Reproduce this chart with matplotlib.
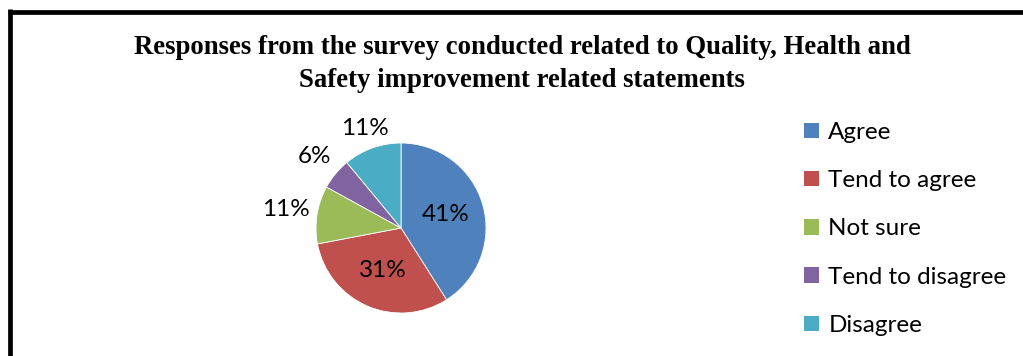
import numpy as np
import matplotlib
matplotlib.use("Agg")
import matplotlib.pyplot as plt
from matplotlib.lines import Line2D
from matplotlib.patches import Patch

categories = ["Agree", "Tend to agree", "Not sure", "Tend to disagree", "Disagree"]
values = [41, 31, 11, 6, 11]
labels = ["41%", "31%", "11%", "6%", "11%"]
colors = ["#4F81BD", "#C0504D", "#9BBB59", "#8064A2", "#4BACC6"]
label_dist = [0.55, 0.55, 1.37, 1.32, 1.25]

W, H, DPI = 1023, 356, 100
fig = plt.figure(figsize=(W / DPI, H / DPI), dpi=DPI)
fig.patch.set_facecolor("white")

# pie axes: center (401, 228) px, radius 85 px
cx, cy, r = 401, 228, 85
ax = fig.add_axes([(cx - r) / W, (H - cy - r) / H, 2 * r / W, 2 * r / H])
wedges, _ = ax.pie(values, colors=colors, startangle=90, counterclock=False,
                   wedgeprops=dict(edgecolor="white", linewidth=0.6))
ax.set_xlim(-1, 1)
ax.set_ylim(-1, 1)
ax.set_aspect("equal")

lab_font = "Lato"
for w, lab, d in zip(wedges, labels, label_dist):
    ang = np.deg2rad((w.theta1 + w.theta2) / 2)
    ax.text(d * np.cos(ang), d * np.sin(ang), lab, ha="center", va="center",
            fontsize=17.5, family=lab_font, color="black")

# title
fig.text(522 / W, (H - 64) / H,
         "Responses from the survey conducted related to Quality, Health and\nSafety improvement related statements",
         ha="center", va="center", fontsize=19.3, fontweight="bold",
         family="Liberation Serif", linespacing=1.4)

# legend
handles = [Patch(facecolor=c, edgecolor="none") for c in colors]
leg = fig.legend(handles, categories, loc="upper left",
                 bbox_to_anchor=(804 / W, (H - 122) / H), frameon=False,
                 prop=dict(family=lab_font, size=17.5), handlelength=0.6,
                 handleheight=0.6, handletextpad=0.4, labelspacing=1.12,
                 borderpad=0, borderaxespad=0)

# border lines (left and top)
fig.add_artist(Line2D([10.3 / W, 10.3 / W], [0, (H - 9) / H], color="black",
                      linewidth=3.4, transform=fig.transFigure, solid_capstyle="butt"))
fig.add_artist(Line2D([8 / W, 1.0], [(H - 11.5) / H, (H - 11.5) / H], color="black",
                      linewidth=3.4, transform=fig.transFigure, solid_capstyle="butt"))

fig.savefig("out.png", dpi=DPI)
